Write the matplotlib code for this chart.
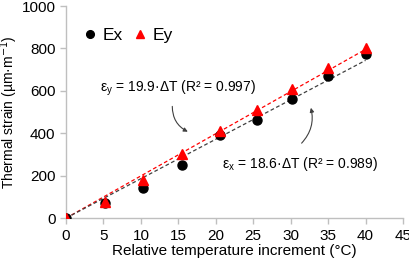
import matplotlib
matplotlib.use("Agg")
import matplotlib.pyplot as plt
import numpy as np

plt.rcParams["font.family"] = ["Liberation Sans", "DejaVu Sans"]

GRAY = "#BFBFBF"
RED = "#FF0000"
DARK = "#404040"

dT = [0, 5.2, 10.3, 15.5, 20.5, 25.5, 30.2, 35, 40]
ex = [0, 70, 141, 250, 390, 462, 561, 671, 773]
ey = [0, 75, 179, 302, 410, 509, 608, 710, 802]
slope_x, r2_x = 18.6, 0.989
slope_y, r2_y = 19.9, 0.997

fig = plt.figure(figsize=(4.1, 2.65), dpi=100)
ax = fig.add_axes([0.161, 0.177, 0.822, 0.8])

fit_t = np.array([0, 40])
ax.plot(fit_t, slope_y * fit_t, "--", color=RED, lw=0.9, dashes=(3, 2), zorder=2)
ax.plot(fit_t, slope_x * fit_t, "--", color=DARK, lw=0.9, dashes=(3, 2), zorder=2)
ax.plot(dT, ex, "o", color="black", ms=6.5, ls="none", label="Ex", zorder=3)
ax.plot(dT, ey, "^", color=RED, ms=6.5, ls="none", label="Ey", zorder=4)

ax.set_xlim(0, 45)
ax.set_ylim(0, 1000)
ax.set_xticks(range(0, 46, 5))
ax.set_yticks(range(0, 1001, 200))
for s in ["top", "right"]:
    ax.spines[s].set_visible(False)
for s in ["left", "bottom"]:
    ax.spines[s].set_color(GRAY)
    ax.spines[s].set_linewidth(1.0)
ax.tick_params(colors=GRAY, labelcolor="black", labelsize=11, length=4, width=1)
ax.set_xlabel("Relative temperature increment (°C)", fontsize=11, labelpad=1)
ax.set_ylabel("Thermal strain (µm·m$^{-1}$)", fontsize=10, labelpad=1)

ax.legend(loc="upper left", bbox_to_anchor=(0.0, 0.97), ncol=2, frameon=False,
          fontsize=12.5, handlelength=1.0, handletextpad=0.2, columnspacing=0.5,
          markerscale=0.85)

ax.annotate("", xy=(16.6, 402), xytext=(14.2, 540),
            arrowprops=dict(arrowstyle="-|>", color=DARK, lw=0.8, mutation_scale=6,
                            connectionstyle="arc3,rad=0.35"))
ax.text(4.5, 613, "ε$\\mathregular{_y}$ = %.1f·ΔT (R² = %.3f)" % (slope_y, r2_y),
        fontsize=10, va="center")
ax.annotate("", xy=(32.6, 533), xytext=(31.2, 344),
            arrowprops=dict(arrowstyle="-|>", color=DARK, lw=0.8, mutation_scale=6,
                            connectionstyle="arc3,rad=0.3"))
ax.text(20.8, 255, "ε$\\mathregular{_x}$ = %.1f·ΔT (R² = %.3f)" % (slope_x, r2_x),
        fontsize=10, va="center")

fig.savefig("out.png", dpi=100, facecolor="white")
